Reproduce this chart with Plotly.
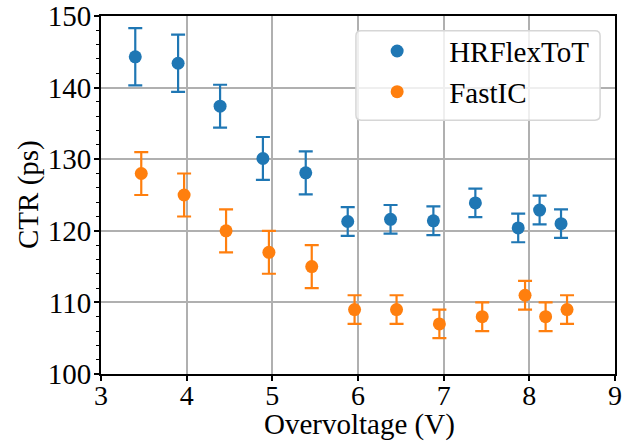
import plotly.graph_objects as go

hr_x = [3.40, 3.90, 4.39, 4.89, 5.39, 5.88, 6.38, 6.88, 7.37, 7.87, 8.12, 8.37]
hr_y = [144.3, 143.4, 137.4, 130.1, 128.1, 121.3, 121.6, 121.4, 123.9, 120.4, 122.9, 121.0]
hr_err = [4, 4, 3, 3, 3, 2, 2, 2, 2, 2, 2, 2]

fi_x = [3.47, 3.97, 4.46, 4.96, 5.46, 5.96, 6.45, 6.95, 7.45, 7.95, 8.19, 8.44]
fi_y = [128.0, 125.0, 120.0, 117.0, 115.0, 109.0, 109.0, 107.0, 108.0, 111.0, 108.0, 109.0]
fi_err = [3, 3, 3, 3, 3, 2, 2, 2, 2, 2, 2, 2]

series = [
    ("HRFlexToT", hr_x, hr_y, hr_err, "#1f77b4"),
    ("FastIC", fi_x, fi_y, fi_err, "#ff7f0e"),
]

FONT = "Liberation Serif, Times New Roman, serif"
FS = 29

fig = go.Figure()
for i, (name, xs, ys, es, c) in enumerate(series):
    fig.add_trace(go.Scatter(
        x=xs, y=ys, name=name, mode="markers", legendgroup=f"g{i}",
        marker=dict(color=c, size=13),
        error_y=dict(type="data", array=es, visible=True, color=c, thickness=2.2, width=7),
    ))

axis_common = dict(
    showline=True, linecolor="black", linewidth=2, mirror=True,
    ticks="outside", ticklen=5, tickwidth=1.5, tickcolor="black",
    showgrid=True, gridcolor="#b0b0b0", gridwidth=1.5,
    zeroline=False, automargin=False,
)

fig.update_xaxes(range=[3, 9], dtick=1, tick0=3, ticklabelstandoff=-10,
                 tickfont=dict(family=FONT, size=28, color="black"), **axis_common)
fig.update_yaxes(
    range=[100, 150], dtick=10, tick0=100, ticklabelstandoff=-3,
    tickfont=dict(family=FONT, size=FS, color="black"),
    minor=dict(dtick=2, ticks="outside", ticklen=3, tickwidth=1.2, tickcolor="black", showgrid=False),
    **axis_common,
)

# axis titles
fig.add_annotation(text="Overvoltage (V)", xref="paper", yref="paper", x=0.502, y=-0.142,
                   xanchor="center", yanchor="middle", showarrow=False,
                   font=dict(family=FONT, size=FS, color="black"))
fig.add_annotation(text="CTR (ps)", xref="paper", yref="paper", x=-0.142, y=0.5,
                   xanchor="center", yanchor="middle", textangle=-90, showarrow=False,
                   font=dict(family=FONT, size=FS, color="black"))

# legend frame (rounded, semi-transparent) drawn as a shape in paper coords
x0, x1, y0, y1, r = 0.496, 0.971, 0.709, 0.959, 0.01
ry = r * 514 / 358
path = (f"M {x0+r},{y1} L {x1-r},{y1} Q {x1},{y1} {x1},{y1-ry} "
        f"L {x1},{y0+ry} Q {x1},{y0} {x1-r},{y0} L {x0+r},{y0} "
        f"Q {x0},{y0} {x0},{y0+ry} L {x0},{y1-ry} Q {x0},{y1} {x0+r},{y1} Z")
fig.add_shape(type="path", path=path, xref="paper", yref="paper",
              fillcolor="rgba(255,255,255,0.8)", line=dict(color="#d6d6d6", width=1.5),
              layer="above")

fig.update_layout(
    width=631, height=445,
    margin=dict(l=101, r=16, t=16, b=71),
    paper_bgcolor="white", plot_bgcolor="white",
    font=dict(family=FONT, size=FS, color="black"),
    showlegend=True,
    legend=dict(
        x=0.475, y=0.973, xanchor="left", yanchor="top",
        bgcolor="rgba(0,0,0,0)", borderwidth=0,
        font=dict(family=FONT, size=FS, color="black"),
        itemwidth=94, tracegroupgap=0,
    ),
)

fig.write_html("out.html")
